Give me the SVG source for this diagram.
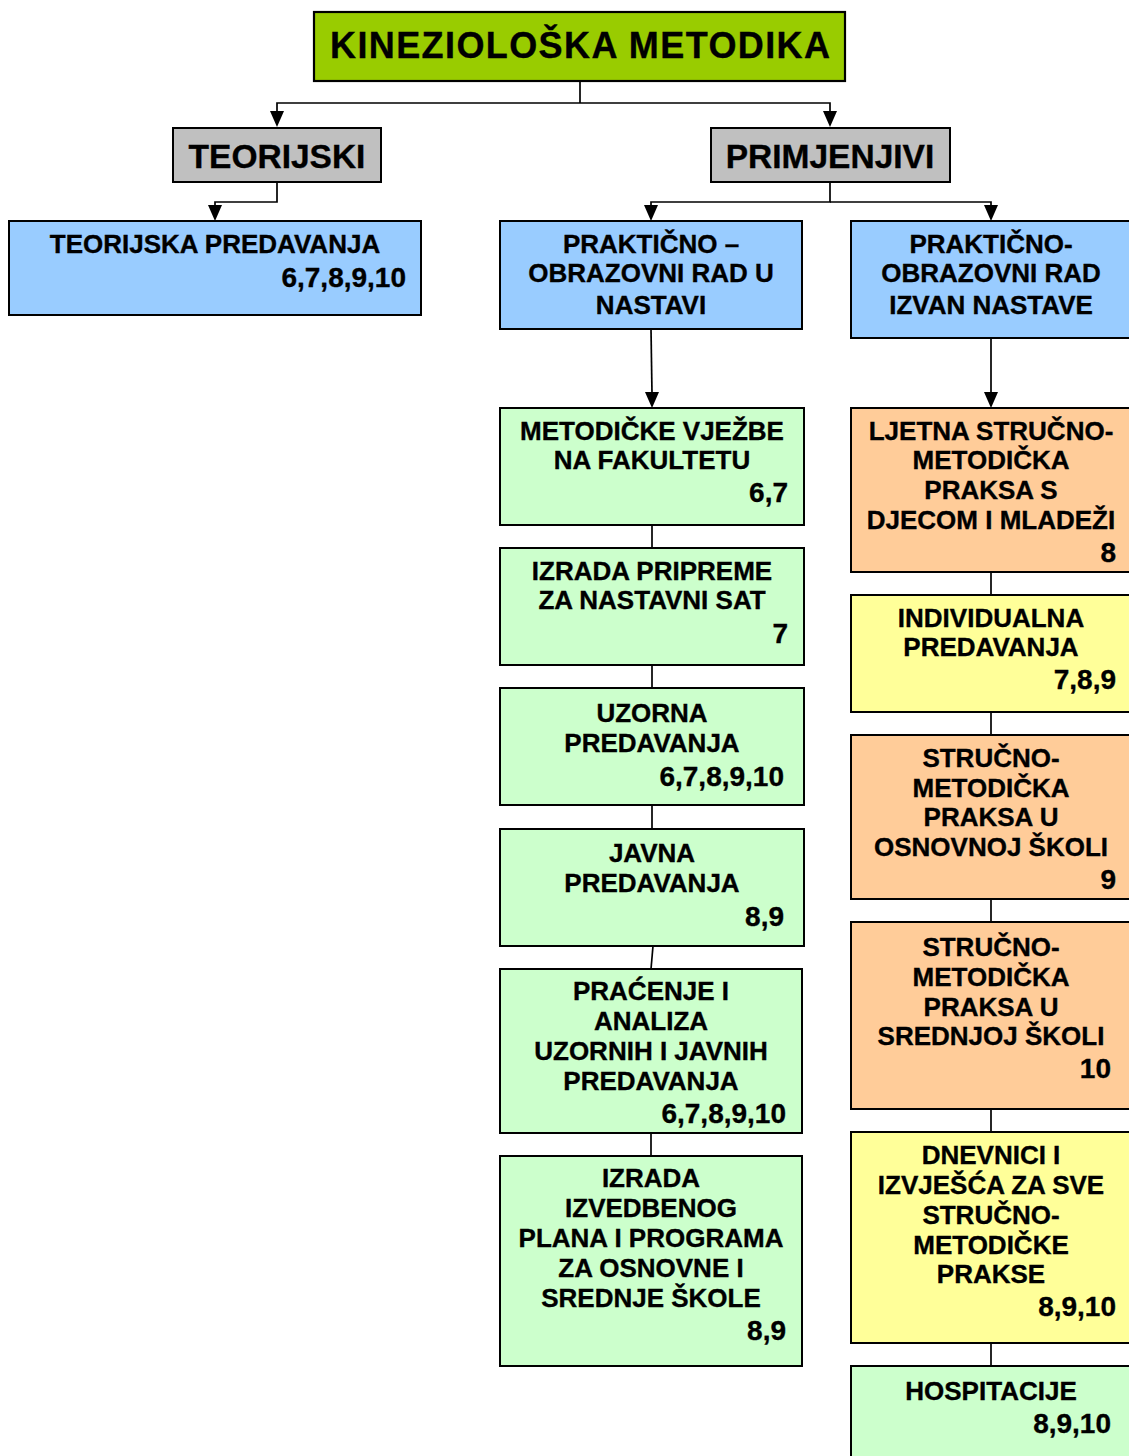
<svg xmlns="http://www.w3.org/2000/svg" width="1129" height="1456" viewBox="0 0 1129 1456">
<defs>
<style>
text{font-family:"Liberation Sans",Arial,sans-serif;font-weight:bold;fill:#000;stroke:#000;stroke-width:0.35}
.t{font-size:26px;text-anchor:middle}
.n{font-size:28px;text-anchor:end}
.h{font-size:33.5px;text-anchor:middle}
.box{stroke:#000;stroke-width:2}
.blue{fill:#99CCFF}.green{fill:#CCFFCC}.orange{fill:#FFCC99}.yellow{fill:#FFFF99}.gray{fill:#C0C0C0}
.c{fill:none;stroke:#000;stroke-width:1.7}
</style>
</defs>
<rect width="1129" height="1456" fill="#fff"/>

<g id="connectors">
<path class="c" d="M580,81 V103"/>
<path class="c" d="M580,103 H277 V113"/>
<path class="c" d="M580,103 H830 V113"/>
<path class="c" d="M277,182 V202 H215 V207"/>
<path class="c" d="M830,182 V202 H651 V207"/>
<path class="c" d="M830,202 H991 V207"/>
<path class="c" d="M651,329 L652,394"/>
<path class="c" d="M991,338 V394"/>
<path class="c" d="M652,525 V548"/>
<path class="c" d="M652,665 V688"/>
<path class="c" d="M652,805 V829"/>
<path class="c" d="M653,946 L651,969"/>
<path class="c" d="M651,1133 V1156"/>
<path class="c" d="M991,572 V595"/>
<path class="c" d="M991,712 V735"/>
<path class="c" d="M991,899 V922"/>
<path class="c" d="M991,1109 V1132"/>
<path class="c" d="M991,1343 V1366"/>
<g fill="#000">
<path d="M270,111 L284,111 L277,127 Z"/>
<path d="M823,111 L837,111 L830,127 Z"/>
<path d="M208,205 L222,205 L215,221 Z"/>
<path d="M644,205 L658,205 L651,221 Z"/>
<path d="M984,205 L998,205 L991,221 Z"/>
<path d="M645,392 L659,392 L652,408 Z"/>
<path d="M984,392 L998,392 L991,408 Z"/>
</g>
</g>

<g id="title">
<rect x="314" y="12" width="531" height="69" fill="#99CC00" stroke="#000" stroke-width="2.2"/>
<text x="580" y="58" font-size="36" text-anchor="middle" stroke-width="1.6" textLength="500" lengthAdjust="spacing">KINEZIOLOŠKA METODIKA</text>
</g>

<g id="teorijski">
<rect class="box gray" x="173" y="128" width="208" height="54"/>
<text class="h" x="277" y="168">TEORIJSKI</text>
</g>

<g id="primjenjivi">
<rect class="box gray" x="711" y="128" width="239" height="54"/>
<text class="h" x="830" y="168">PRIMJENJIVI</text>
</g>

<g id="teorijska-predavanja">
<rect class="box blue" x="9" y="221" width="412" height="94"/>
<text class="t" x="215" y="253">TEORIJSKA PREDAVANJA</text>
<text class="n" x="406" y="287">6,7,8,9,10</text>
</g>

<g id="prakticno-u-nastavi">
<rect class="box blue" x="500" y="221" width="302" height="108"/>
<text class="t" x="651" y="253">PRAKTIČNO –</text>
<text class="t" x="651" y="282">OBRAZOVNI RAD U</text>
<text class="t" x="651" y="314">NASTAVI</text>
</g>

<g id="prakticno-izvan-nastave">
<rect class="box blue" x="851" y="221" width="280" height="117"/>
<text class="t" x="991" y="253">PRAKTIČNO-</text>
<text class="t" x="991" y="282">OBRAZOVNI RAD</text>
<text class="t" x="991" y="314">IZVAN NASTAVE</text>
</g>

<g id="metodicke-vjezbe">
<rect class="box green" x="500" y="408" width="304" height="117"/>
<text class="t" x="652" y="440">METODIČKE VJEŽBE</text>
<text class="t" x="652" y="469">NA FAKULTETU</text>
<text class="n" x="788" y="502">6,7</text>
</g>

<g id="izrada-pripreme">
<rect class="box green" x="500" y="548" width="304" height="117"/>
<text class="t" x="652" y="580">IZRADA PRIPREME</text>
<text class="t" x="652" y="609">ZA NASTAVNI SAT</text>
<text class="n" x="788" y="643">7</text>
</g>

<g id="uzorna-predavanja">
<rect class="box green" x="500" y="688" width="304" height="117"/>
<text class="t" x="652" y="722">UZORNA</text>
<text class="t" x="652" y="752">PREDAVANJA</text>
<text class="n" x="784" y="786">6,7,8,9,10</text>
</g>

<g id="javna-predavanja">
<rect class="box green" x="500" y="829" width="304" height="117"/>
<text class="t" x="652" y="862">JAVNA</text>
<text class="t" x="652" y="892">PREDAVANJA</text>
<text class="n" x="784" y="926">8,9</text>
</g>

<g id="pracenje-analiza">
<rect class="box green" x="500" y="969" width="302" height="164"/>
<text class="t" x="651" y="1000">PRAĆENJE I</text>
<text class="t" x="651" y="1030">ANALIZA</text>
<text class="t" x="651" y="1060">UZORNIH I JAVNIH</text>
<text class="t" x="651" y="1090">PREDAVANJA</text>
<text class="n" x="786" y="1123">6,7,8,9,10</text>
</g>

<g id="izrada-izvedbenog">
<rect class="box green" x="500" y="1156" width="302" height="210"/>
<text class="t" x="651" y="1187">IZRADA</text>
<text class="t" x="651" y="1217">IZVEDBENOG</text>
<text class="t" x="651" y="1247">PLANA I PROGRAMA</text>
<text class="t" x="651" y="1277">ZA OSNOVNE I</text>
<text class="t" x="651" y="1307">SREDNJE ŠKOLE</text>
<text class="n" x="786" y="1340">8,9</text>
</g>

<g id="ljetna-praksa">
<rect class="box orange" x="851" y="408" width="280" height="164"/>
<text class="t" x="991" y="440">LJETNA STRUČNO-</text>
<text class="t" x="991" y="469">METODIČKA</text>
<text class="t" x="991" y="499">PRAKSA S</text>
<text class="t" x="991" y="529">DJECOM I MLADEŽI</text>
<text class="n" x="1116" y="562">8</text>
</g>

<g id="individualna-predavanja">
<rect class="box yellow" x="851" y="595" width="280" height="117"/>
<text class="t" x="991" y="627">INDIVIDUALNA</text>
<text class="t" x="991" y="656">PREDAVANJA</text>
<text class="n" x="1116" y="689">7,8,9</text>
</g>

<g id="praksa-osnovna">
<rect class="box orange" x="851" y="735" width="280" height="164"/>
<text class="t" x="991" y="767">STRUČNO-</text>
<text class="t" x="991" y="797">METODIČKA</text>
<text class="t" x="991" y="826">PRAKSA U</text>
<text class="t" x="991" y="856">OSNOVNOJ ŠKOLI</text>
<text class="n" x="1116" y="889">9</text>
</g>

<g id="praksa-srednja">
<rect class="box orange" x="851" y="922" width="280" height="187"/>
<text class="t" x="991" y="956">STRUČNO-</text>
<text class="t" x="991" y="986">METODIČKA</text>
<text class="t" x="991" y="1016">PRAKSA U</text>
<text class="t" x="991" y="1045">SREDNJOJ ŠKOLI</text>
<text class="n" x="1111" y="1078">10</text>
</g>

<g id="dnevnici">
<rect class="box yellow" x="851" y="1132" width="280" height="211"/>
<text class="t" x="991" y="1164">DNEVNICI I</text>
<text class="t" x="991" y="1194">IZVJEŠĆA ZA SVE</text>
<text class="t" x="991" y="1224">STRUČNO-</text>
<text class="t" x="991" y="1254">METODIČKE</text>
<text class="t" x="991" y="1283">PRAKSE</text>
<text class="n" x="1116" y="1316">8,9,10</text>
</g>

<g id="hospitacije">
<rect class="box green" x="851" y="1366" width="280" height="100"/>
<text class="t" x="991" y="1400">HOSPITACIJE</text>
<text class="n" x="1111" y="1433">8,9,10</text>
</g>
</svg>
